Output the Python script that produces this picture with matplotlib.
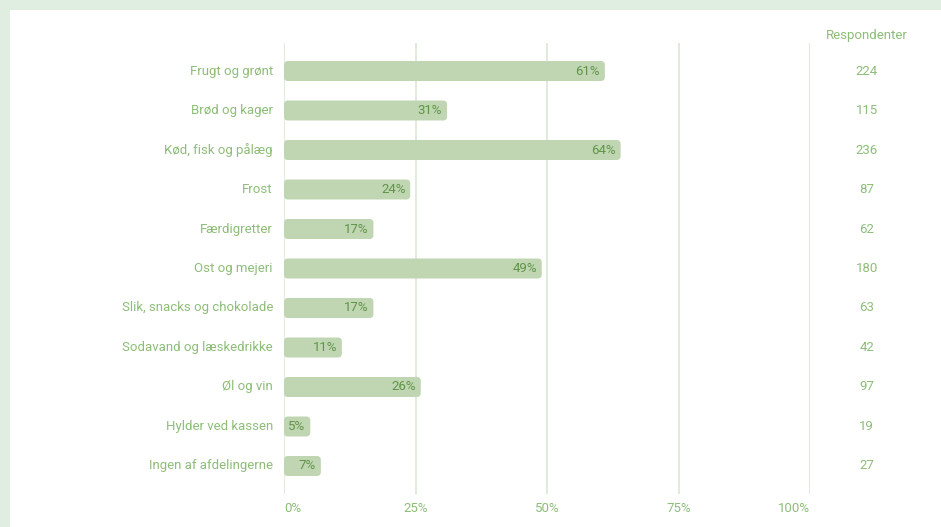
import matplotlib
matplotlib.use('Agg')
import matplotlib.pyplot as plt
from matplotlib.patches import FancyBboxPatch, Rectangle

plt.rcParams['font.family'] = ['Roboto', 'DejaVu Sans']

categories = ['Frugt og grønt', 'Brød og kager', 'Kød, fisk og pålæg', 'Frost',
              'Færdigretter', 'Ost og mejeri', 'Slik, snacks og chokolade',
              'Sodavand og læskedrikke', 'Øl og vin', 'Hylder ved kassen',
              'Ingen af afdelingerne']
shares = [61, 31, 64, 24, 17, 49, 17, 11, 26, 5, 7]
respondents = [224, 115, 236, 87, 62, 180, 63, 42, 97, 19, 27]
x_ticks = [0, 25, 50, 75, 100]

BAR = '#c0d6b3'
LABEL = '#8dbd78'
VALUE = '#5f9448'
GRID = '#dce8d6'
FRAME = '#dfeee0'
FS = 9.5

W, H = 941, 527
fig = plt.figure(figsize=(W / 100, H / 100), dpi=100)
fig.patch.set_facecolor(FRAME)
fig.patches.append(Rectangle((10 / W, 0), 1, 1 - 10 / H, transform=fig.transFigure,
                             facecolor='white', edgecolor='none', zorder=-5))

ax_l, ax_r, ax_t, ax_b = 284, 810, 43, 494
ax = fig.add_axes([ax_l / W, 1 - ax_b / H, (ax_r - ax_l) / W, (ax_b - ax_t) / H])
ax.set_facecolor('none')
n = len(categories)
pad = 0.709
ax.set_xlim(0, 100)
ax.set_ylim(n - 1 + pad, -pad)

for x in x_ticks:
    ax.axvline(x, color=GRID, lw=1.2, zorder=1)

px_x = 100 / (ax_r - ax_l)          # data units per pixel in x
px_y = (n - 1 + 2 * pad) / (ax_b - ax_t)
bar_h = 20 * px_y
for i, v in enumerate(shares):
    p = FancyBboxPatch((0, i - bar_h / 2), v, bar_h,
                       boxstyle=f'round,pad=0,rounding_size={4 * px_x}',
                       mutation_aspect=px_y / px_x,
                       facecolor=BAR, edgecolor='none', zorder=2)
    ax.add_patch(p)
    ax.text(v - 0.9, i, f'{v}%', ha='right', va='center', fontsize=FS,
            color=VALUE, zorder=3)
    ax.text(-2.1, i, categories[i], ha='right', va='center', fontsize=FS,
            color=LABEL, clip_on=False)
    ax.text(110.8, i, str(respondents[i]), ha='center', va='center',
            fontsize=FS, color=LABEL, clip_on=False)

ax.text(110.8, -pad - 7 * px_y, 'Respondenter', ha='center', va='center',
        fontsize=FS, color=LABEL, clip_on=False)

ax.set_xticks(x_ticks)
ax.set_xticklabels([f'{x}%' for x in x_ticks])
ax.tick_params(axis='x', length=0, pad=6, labelsize=FS, labelcolor=LABEL)
lbls = ax.get_xticklabels()
lbls[0].set_ha('left')
lbls[-1].set_ha('right')
ax.set_yticks([])
for s in ax.spines.values():
    s.set_visible(False)

fig.savefig('out.png', dpi=100, facecolor=fig.get_facecolor())
